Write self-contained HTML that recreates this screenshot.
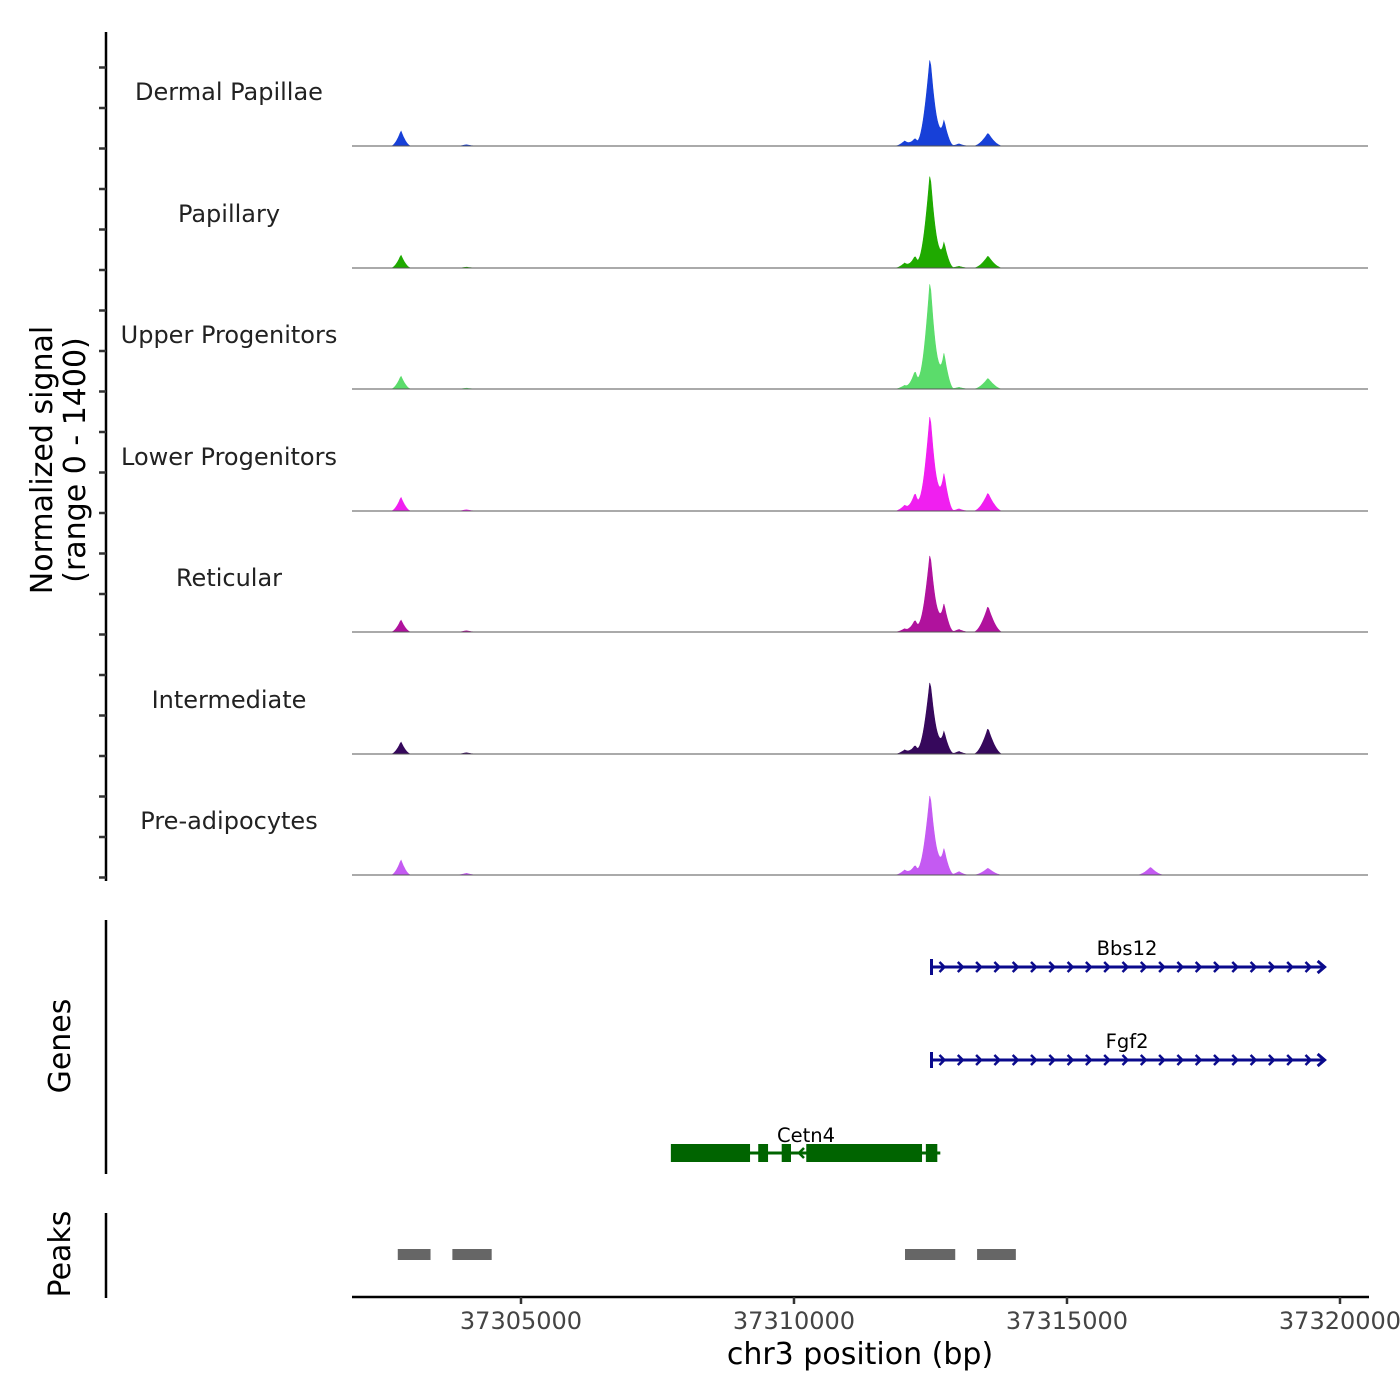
<!DOCTYPE html>
<html><head><meta charset="utf-8"><style>
body{margin:0;background:#fff}
svg{display:block;font-family:"DejaVu Sans","Liberation Sans",sans-serif}
</style></head><body>
<svg id="chart" width="1400" height="1400" viewBox="0 0 1400 1400" xmlns="http://www.w3.org/2000/svg">
<g id="tracks"></g>
<g id="yaxis">
<line x1="106" y1="32" x2="106" y2="881" stroke="#000" stroke-width="2.5"/>
</g>
<text transform="translate(52,460) rotate(-90)" text-anchor="middle" font-size="30" fill="#000">Normalized signal</text>
<text transform="translate(85,460) rotate(-90)" text-anchor="middle" font-size="30" fill="#000">(range 0 - 1400)</text>
<g id="genes">
<line x1="106" y1="920" x2="106" y2="1174" stroke="#000" stroke-width="2.5"/>
<text transform="translate(70,1046) rotate(-90)" text-anchor="middle" font-size="30">Genes</text>
</g>
<g id="peaks">
<line x1="106" y1="1213" x2="106" y2="1298" stroke="#000" stroke-width="2.5"/>
<text transform="translate(70,1254) rotate(-90)" text-anchor="middle" font-size="30">Peaks</text>
</g>
<g id="xaxis">
<line x1="352" y1="1297" x2="1369" y2="1297" stroke="#000" stroke-width="2.5"/>
<text x="860" y="1364" text-anchor="middle" font-size="30">chr3 position (bp)</text>
</g>
</svg>
<script>
const trackNames = ["Dermal Papillae","Papillary","Upper Progenitors","Lower Progenitors","Reticular","Intermediate","Pre-adipocytes"];
const trackColors = ["#1740d8","#1faa00","#5bdc6b","#f01ff0","#b0129d","#36085c","#c45af2"];
const peakPositions = [37302802,37312030,37312216,37312491,37312747,37313020,37313553,37304000,37316530];
const dpValues  = [175,60,90,1030,300,25,150,15,0];
const papValues = [150,60,140,1100,300,20,140,10,0];
const upValues  = [150,45,210,1260,420,20,125,10,0];
const lowValues = [160,70,210,1130,440,25,210,15,0];
const retValues = [140,40,140,915,330,30,300,15,0];
const intValues = [140,50,100,855,265,30,300,15,0];
const preValues = [175,60,115,950,310,40,80,20,90];
const trackValues = [dpValues,papValues,upValues,lowValues,retValues,intValues,preValues];
const xTicks = [37305000,37310000,37315000,37320000];
const peakRegions = [[37302780,37303380],[37303780,37304500],[37312070,37312990],[37313390,37314100]];
const genesFwd = [{name:"Bbs12",start:37312500,end:37319700,row:0},{name:"Fgf2",start:37312500,end:37319700,row:1}];
const cetn4Exons = [[37307800,37309250],[37309400,37309580],[37309830,37310000],[37310280,37312400],[37312470,37312680]];

const NS="http://www.w3.org/2000/svg";
const X0=37301905, PX=273/5000, LEFT=352, RIGHT=1368;
const xs = bp => LEFT + (bp-X0)*PX;
const baselines=[146,268,389,511,632,754,875];
const trackH=121.5;
const ys = (v,i) => baselines[i] - v/1400*trackH;
function el(tag,attrs,parent){const e=document.createElementNS(NS,tag);for(const k in attrs)e.setAttribute(k,attrs[k]);parent.appendChild(e);return e;}

const tracksG=document.getElementById('tracks');
const halfW=[110,110,110,150,110,110,160,110,150];
trackNames.forEach((name,i)=>{
  const g=el('g',{},tracksG);
  
  
  let pts=[];
  for(let bp=X0; bp<=X0+(RIGHT-LEFT)/PX; bp+=20){
    let v=0;
    trackValues[i].forEach((h,j)=>{const d=Math.abs(bp-peakPositions[j]);const w=halfW[j];if(d<w*1.6){const t=d/(w*1.6);v+=h*Math.pow(1-t,1.7);}});
    pts.push(xs(bp).toFixed(1)+','+ys(v,i).toFixed(1));
  }
  const poly=el('polygon',{points:LEFT+','+baselines[i]+' '+pts.join(' ')+' '+RIGHT+','+baselines[i],fill:trackColors[i],stroke:trackColors[i],'stroke-width':0.6},g);
  
  
  const bl=el('line',{x1:LEFT,y1:baselines[i],x2:RIGHT,y2:baselines[i],stroke:'#555','stroke-width':1},g);
  
  
  const t=el('text',{x:229,y:baselines[i]-46,'text-anchor':'middle','font-size':24,fill:'#222'},g);
  t.textContent=name;
  
  
});
const yax=document.getElementById('yaxis');
for(let y=27;y<=880;y+=40.5){ if(y<40)continue;
  const tk=el('line',{x1:99,y1:y.toFixed(1),x2:106,y2:y.toFixed(1),stroke:'#333','stroke-width':2.5},yax);
  
  
}
const xax=document.getElementById('xaxis');
xTicks.forEach(v=>{
  const x=xs(v);
  const tk=el('line',{x1:x,y1:1297,x2:x,y2:1304,stroke:'#333','stroke-width':2.5},xax);
  
  
  const tl=el('text',{x:x,y:1329,'text-anchor':'middle','font-size':24,fill:'#444'},xax);
  tl.textContent=v;
  
  
});
const pk=document.getElementById('peaks');
peakRegions.forEach(r=>{
  const rc=el('rect',{x:xs(r[0])-2,y:1249,width:xs(r[1])-xs(r[0]),height:11,fill:'#666'},pk);
  
  
});
const gg=document.getElementById('genes');
const navy='#0a0a8c';
genesFwd.forEach(gn=>{
  const y=967+gn.row*93;
  const g=el('g',{},gg);
  
  
  const x1=xs(gn.start),x2=xs(gn.end);
  el('line',{x1:x1,y1:y,x2:x2,y2:y,stroke:navy,'stroke-width':3},g);
  el('line',{x1:x1+1,y1:y-8,x2:x1+1,y2:y+8,stroke:navy,'stroke-width':3},g);
  for(let x=x1+12;x<x2;x+=18.3){el('polyline',{points:(x-3)+','+(y-5)+' '+(x+2)+','+y+' '+(x-3)+','+(y+5),fill:'none',stroke:navy,'stroke-width':2.5},g);}
  el('polyline',{points:(x2-6)+','+(y-6)+' '+(x2+1)+','+y+' '+(x2-6)+','+(y+6),fill:'none',stroke:navy,'stroke-width':3},g);
  const t=el('text',{x:(x1+x2)/2,y:y-12,'text-anchor':'middle','font-size':19.5,fill:'#000'},g);
  t.textContent=gn.name;
});
const cg=el('g',{},gg);


const cy=1153, green='#006400';
el('line',{x1:xs(cetn4Exons[0][0]),y1:cy,x2:xs(cetn4Exons[4][1]),y2:cy,stroke:green,'stroke-width':3},cg);
cetn4Exons.forEach(e=>{el('rect',{x:xs(e[0])-3,y:cy-9,width:xs(e[1])-xs(e[0]),height:18,fill:green},cg);});
[783,800].forEach(x=>el('polyline',{points:(x+4)+','+(cy-5)+' '+(x-1)+','+cy+' '+(x+4)+','+(cy+5),fill:'none',stroke:green,'stroke-width':2.5},cg));
const ct=el('text',{x:806,y:1142,'text-anchor':'middle','font-size':19.5,fill:'#000'},cg);
ct.textContent='Cetn4';
</script>
</body></html>
